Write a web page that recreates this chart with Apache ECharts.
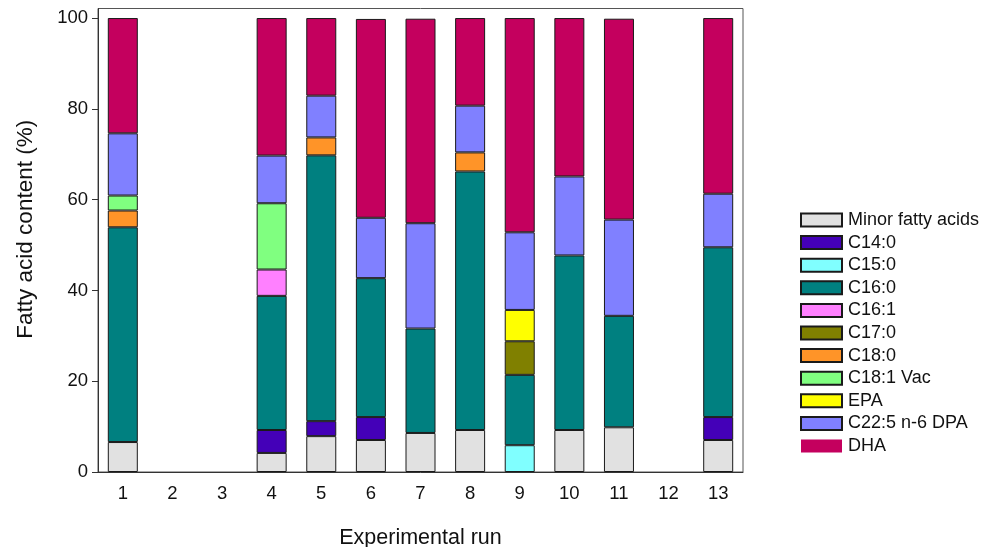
<!DOCTYPE html>
<html>
<head>
<meta charset="utf-8">
<script src="https://cdn.jsdelivr.net/npm/echarts@6/dist/echarts.min.js"></script>
<style>
html,body{margin:0;padding:0;background:#fff;}
#c{width:995px;height:547px;}
</style>
</head>
<body>
<div id="c"></div>
<script>
const categories = ['1','2','3','4','5','6','7','8','9','10','11','12','13'];
const seriesNames = ['Minor fatty acids','C14:0','C15:0','C16:0','C16:1','C17:0','C18:0','C18:1 Vac','EPA','C22:5 n-6 DPA','DHA'];
const minorFA = [6.6, null, null, 4.2, 7.9, 7.05, 8.6, 9.25, null, 9.25, 9.85, null, 7.05];
const c14_0   = [null, null, null, 5.05, 3.3, 5.05, null, null, null, null, null, null, 5.05];
const c15_0   = [null, null, null, null, null, null, null, null, 5.9, null, null, null, null];
const c16_0   = [47.3, null, null, 29.55, 58.55, 30.6, 23.0, 56.95, 15.5, 38.45, 24.55, null, 37.4];
const c16_1   = [null, null, null, 5.8, null, null, null, null, null, null, null, null, null];
const c17_0   = [null, null, null, null, null, null, null, null, 7.4, null, null, null, null];
const c18_0   = [3.7, null, null, null, 3.95, null, null, 4.2, null, null, null, null, null];
const c18_1   = [3.3, null, null, 14.6, null, null, null, null, null, null, null, null, null];
const epa     = [null, null, null, null, null, null, null, null, 6.9, null, null, null, null];
const dpa     = [13.7, null, null, 10.5, 9.2, 13.3, 23.2, 10.3, 17.1, 17.4, 21.2, null, 11.8];
const dha     = [25.4, null, null, 30.3, 17.1, 43.8, 45.05, 19.3, 47.2, 34.9, 44.25, null, 38.7];
const yTicks  = [0, 20, 40, 60, 80, 100];

const values = [minorFA, c14_0, c15_0, c16_0, c16_1, c17_0, c18_0, c18_1, epa, dpa, dha];
const colors = ['#e1e1e1','#4400b8','#80ffff','#008080','#ff80ff','#808000','#ff9428','#80ff80','#ffff00','#8080ff','#c4005e'];

const font = '"Liberation Sans", Arial, sans-serif';
const chart = echarts.init(document.getElementById('c'));
chart.setOption({
  animation: false,
  backgroundColor: '#fff',
  grid: {
    left: 98, right: 252, top: 8.5, bottom: 75,
    outerBoundsMode: 'none', containLabel: false,
    show: true, borderColor: '#555', borderWidth: 1, backgroundColor: 'transparent'
  },
  legend: {
    orient: 'vertical',
    left: 795, top: 206,
    itemWidth: 41, itemHeight: 13, itemGap: 4.6,
    icon: 'rect',
    textStyle: { fontFamily: font, fontSize: 18, color: '#111', padding: [0,0,0,1] },
    data: seriesNames.map((n, i) => i === seriesNames.length - 1
      ? { name: n, itemStyle: { borderWidth: 0 } }
      : { name: n })
  },
  xAxis: {
    type: 'category',
    data: categories,
    name: 'Experimental run',
    nameLocation: 'middle',
    nameGap: 55,
    nameTextStyle: { fontFamily: font, fontSize: 21.5, color: '#111' },
    axisLine: { lineStyle: { color: '#333', width: 1 } },
    axisTick: { alignWithLabel: true, length: 6, lineStyle: { color: '#333' } },
    axisLabel: { fontFamily: font, fontSize: 18.5, color: '#111', margin: 12 },
    splitLine: { show: false }
  },
  yAxis: {
    type: 'value',
    min: 0, max: 102.1,
    interval: 20,
    name: 'Fatty acid content (%)',
    nameLocation: 'middle',
    nameGap: 61,
    nameTextStyle: { fontFamily: font, fontSize: 22.5, color: '#111', padding: [0, 0, 0, 22] },
    axisLine: { show: true, lineStyle: { color: '#333', width: 1 } },
    axisTick: { show: true, length: 6, customValues: yTicks, lineStyle: { color: '#333' } },
    axisLabel: { fontFamily: font, fontSize: 18.5, color: '#111', margin: 10, customValues: yTicks },
    splitLine: { show: false }
  },
  series: seriesNames.map((n, i) => ({
    name: n,
    type: 'bar',
    stack: 'total',
    barWidth: 30,
    data: values[i],
    itemStyle: { color: colors[i], borderColor: '#1a1a1a', borderWidth: 1 },
    emphasis: { disabled: true }
  }))
});
</script>
</body>
</html>
